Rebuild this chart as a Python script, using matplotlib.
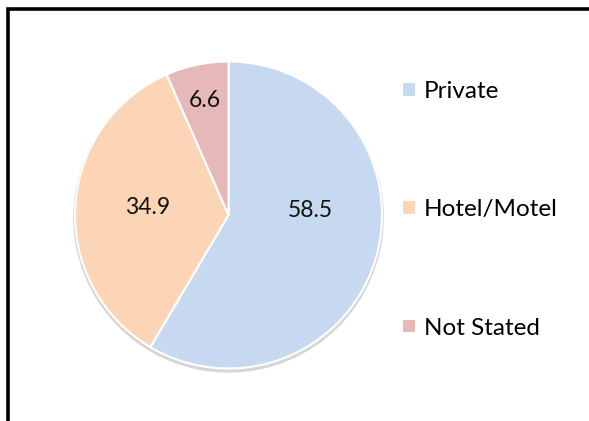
import numpy as np
import matplotlib.pyplot as plt
from matplotlib.patches import Rectangle, Circle

# data
categories = ["Private", "Hotel/Motel", "Not Stated"]
values = [58.5, 34.9, 6.6]
colors = ["#C6D9F1", "#FBD5B5", "#E6B9B8"]

plt.rcParams['font.family'] = ['Lato', 'DejaVu Sans']

W, H = 589, 421
fig = plt.figure(figsize=(W / 100, H / 100), dpi=100)
fig.patch.set_facecolor("white")

# pie placed by pixel centre / radius
cx, cy, r = 228.5, 215, 153.5
ax = fig.add_axes([(cx - r) / W, (H - cy - r) / H, 2 * r / W, 2 * r / H])

# soft shadow under the pie
ax.add_patch(Circle((0, -0.015), 1.012, color="#d6d6d6", zorder=0, lw=0,
                    clip_on=False))

wedges, texts, autotexts = ax.pie(
    values, colors=colors, startangle=90, counterclock=False,
    autopct="%.1f", pctdistance=0.55, radius=1,
    wedgeprops=dict(edgecolor="white", linewidth=1.5),
    textprops=dict(fontsize=16.5, color="#111111"))
ax.set_xlim(-1, 1)
ax.set_ylim(-1, 1)
ax.set_aspect("equal")
ax.axis("off")

# label placement like the original (Excel style)
autotexts[0].set_position((0.53, 0.03))
autotexts[1].set_position((-0.53, 0.05))
w = wedges[2]
mid = np.deg2rad((w.theta1 + w.theta2) / 2)
autotexts[2].set_position((0.76 * np.cos(mid), 0.76 * np.sin(mid)))

fig.legend(wedges, categories, loc="upper left",
           bbox_to_anchor=(390 / W, 1 - 69 / H), frameon=False,
           fontsize=17.5, labelspacing=4.0, handlelength=0.55,
           handleheight=0.55, handletextpad=0.35, borderpad=0)

# outer black frame (right and bottom edges run off the image)
fig.patches.append(Rectangle((8 / W, -0.1), 1.2, (H - 9.5) / H + 0.1,
                             transform=fig.transFigure, fill=False,
                             edgecolor="black", linewidth=2.6))

fig.savefig("out.png", dpi=100)
